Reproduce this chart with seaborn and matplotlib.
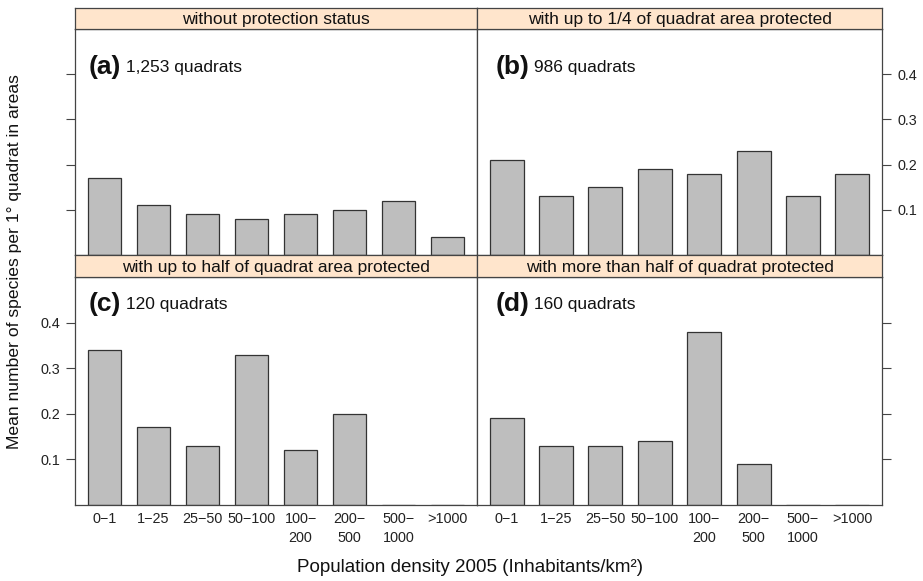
import matplotlib
matplotlib.use('Agg')
import matplotlib.pyplot as plt
import seaborn as sns
import pandas as pd

# population density classes (x axis)
density_classes = ['0−1', '1−25', '25−50', '50−100', '100−\n200', '200−\n500', '500−\n1000', '>1000']

# mean number of species per 1° quadrat, one list per panel
mean_a = [0.17, 0.11, 0.09, 0.08, 0.09, 0.10, 0.12, 0.04]
mean_b = [0.21, 0.13, 0.15, 0.19, 0.18, 0.23, 0.13, 0.18]
mean_c = [0.34, 0.17, 0.13, 0.33, 0.12, 0.20, 0.0, 0.0]
mean_d = [0.19, 0.13, 0.13, 0.14, 0.38, 0.09, 0.0, 0.0]

strip_titles = ['without protection status',
                'with up to 1/4 of quadrat area protected',
                'with up to half of quadrat area protected',
                'with more than half of quadrat protected']
panel_tags = ['(a)', '(b)', '(c)', '(d)']
panel_counts = ['1,253 quadrats', '986 quadrats', '120 quadrats', '160 quadrats']
y_ticks = [0.1, 0.2, 0.3, 0.4]

sns.set_theme(style='white')
plt.rcParams['font.family'] = ['Liberation Sans', 'DejaVu Sans']

W, H = 923, 581
fig = plt.figure(figsize=(W / 100, H / 100), dpi=100)


def px_rect(x0, y0, x1, y1):
    # pixel box (top-left origin) -> figure fraction rect
    return [x0 / W, 1 - y1 / H, (x1 - x0) / W, (y1 - y0) / H]


border = '#444444'
# body boxes (x0, y0, x1, y1) in pixels
bodies = [(75, 29, 477, 255), (477, 29, 882, 255),
          (75, 277, 477, 505), (477, 277, 882, 505)]
tag_pos = [(-0.32, 0.415), (-0.23, 0.415), (-0.32, 0.44), (-0.23, 0.44)]
all_means = [mean_a, mean_b, mean_c, mean_d]

for i, (x0, y0, x1, y1) in enumerate(bodies):
    df = pd.DataFrame({'density': density_classes, 'mean': all_means[i]})
    ax = fig.add_axes(px_rect(x0, y0, x1, y1))
    sns.barplot(data=df, x='density', y='mean', order=density_classes,
                color='#BEBEBE', saturation=1, edgecolor='#333333',
                linewidth=0.9, width=0.69, ax=ax)
    ax.set_xlim(-0.6, 7.6)
    ax.set_ylim(0, 0.5)
    ax.set_xlabel('')
    ax.set_ylabel('')
    for s in ax.spines.values():
        s.set_color(border)
        s.set_linewidth(0.9)

    ax.set_yticks(y_ticks)
    ax.set_yticklabels([str(t) for t in y_ticks])
    ax.tick_params(axis='y', direction='out', length=6.3, width=0.8,
                   color=border, labelsize=10.4, labelcolor='#222222', pad=4.5)
    left_col = i % 2 == 0
    show_ylab = i in (1, 2)
    ax.tick_params(axis='y', left=left_col, right=not left_col,
                   labelleft=show_ylab and left_col,
                   labelright=show_ylab and not left_col)

    if i >= 2:
        ax.tick_params(axis='x', bottom=True, length=0, labelsize=10.4,
                       labelcolor='#222222', pad=5)
        for lab in ax.get_xticklabels():
            lab.set_linespacing(1.5)
    else:
        ax.tick_params(axis='x', length=0, labelbottom=False)

    tx, ty = tag_pos[i]
    t = ax.text(tx, ty, panel_tags[i], fontsize=19, fontweight='bold',
                va='center', ha='left', color='#111111')
    ax.annotate(' ' + panel_counts[i], xy=(1, 0.5), xycoords=t,
                va='center', ha='left', fontsize=12.5, color='#111111')

    # strip header
    sax = fig.add_axes(px_rect(x0, y0 - 21.5, x1, y0))
    sax.set_facecolor('#FFE5CC')
    sax.set_xticks([])
    sax.set_yticks([])
    for s in sax.spines.values():
        s.set_color(border)
        s.set_linewidth(0.9)
    sax.text(0.5, 0.45, strip_titles[i], ha='center', va='center',
             fontsize=12.5, color='#111111', transform=sax.transAxes)

fig.text(15 / W, 1 - 262 / H, 'Mean number of species per 1° quadrat in areas',
         rotation=90, ha='center', va='center', fontsize=12.6, color='#111111')
fig.text(470 / W, 1 - 567 / H, 'Population density 2005 (Inhabitants/km²)',
         ha='center', va='center', fontsize=13.5, color='#111111')

fig.savefig('out.png', dpi=100)
